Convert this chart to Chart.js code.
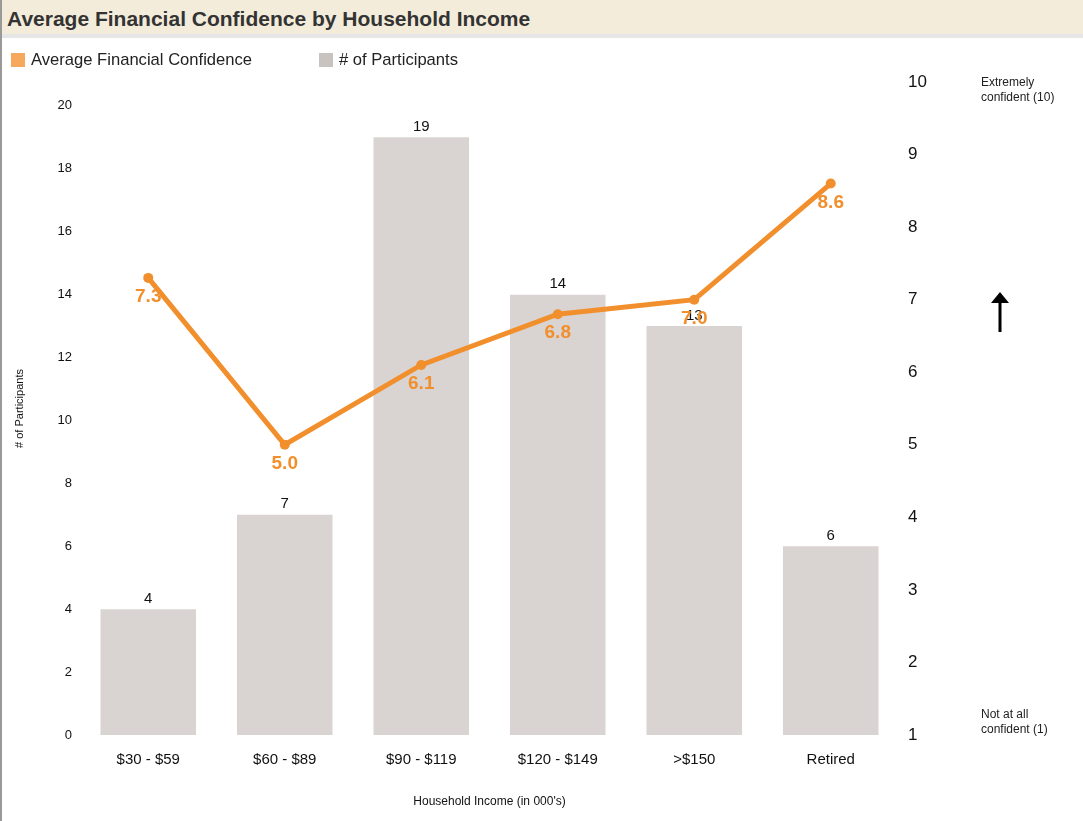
<!DOCTYPE html>
<html>
<head>
<meta charset="utf-8">
<script src="https://cdn.jsdelivr.net/npm/chart.js@4/dist/chart.umd.min.js"></script>
<style>
  body { margin: 0; background: #fff; font-family: "Liberation Sans", Arial, sans-serif; }
  #wrap { position: relative; width: 1083px; height: 821px; overflow: hidden; }
  #title {
    position: absolute; left: 0; top: 0; width: 1083px; height: 38px;
    background: #f3ecdb; border-bottom: 4px solid #e6e6e6;
    font-weight: bold; font-size: 21px; color: #333; line-height: 38px; padding-left: 7px; box-sizing: border-box;
  }
  #leftline { position: absolute; left: 0; top: 0; width: 2px; height: 821px; background: #999; }
  .leg { position: absolute; top: 50px; font-size: 16.6px; color: #222; display: flex; align-items: center; }
  .leg span.box { display: inline-block; width: 14px; height: 14px; margin-right: 6px; }
  .note { position: absolute; left: 981px; font-size: 12px; color: #222; line-height: 15px; }
  canvas { position: absolute; left: 0; top: 0; }
</style>
</head>
<body>
<div id="wrap">
  <canvas id="chart" width="1083" height="821"></canvas>
  <div id="title">Average Financial Confidence by Household Income</div>
  <div id="leftline"></div>
  <div class="leg" style="left:11px"><span class="box" style="background:#f6a95c"></span>Average Financial Confidence</div>
  <div class="leg" style="left:319px"><span class="box" style="background:#c9c3c0"></span># of Participants</div>
  <div class="note" style="top:75px">Extremely<br>confident (10)</div>
  <div class="note" style="top:707px">Not at all<br>confident (1)</div>
  <svg style="position:absolute;left:990px;top:290px" width="20" height="44">
    <polygon points="10,2 1,13 19,13" fill="#000"/>
    <rect x="8.5" y="12" width="3" height="30" fill="#000"/>
  </svg>
</div>
<script>
const categories = ['$30 - $59', '$60 - $89', '$90 - $119', '$120 - $149', '>$150', 'Retired'];
const participants = [4, 7, 19, 14, 13, 6];
const confidence = [7.3, 5.0, 6.1, 6.8, 7.0, 8.6];

const ctx = document.getElementById('chart');

// value labels for bars and line points
const valueLabels = {
  id: 'valueLabels',
  afterDatasetsDraw(chart) {
    const c = chart.ctx;
    c.save();
    c.textAlign = 'center';
    const bars = chart.getDatasetMeta(1);
    c.font = '15px "Liberation Sans", Arial, sans-serif';
    c.fillStyle = '#111';
    c.textBaseline = 'bottom';
    bars.data.forEach((el, i) => {
      c.fillText(participants[i], el.x, el.y - 3);
    });
    const line = chart.getDatasetMeta(0);
    c.font = 'bold 19px "Liberation Sans", Arial, sans-serif';
    c.fillStyle = '#f28f2d';
    c.textBaseline = 'middle';
    line.data.forEach((el, i) => {
      c.fillText(confidence[i].toFixed(1), el.x, el.y + 19);
    });
    c.restore();
  }
};

new Chart(ctx, {
  type: 'bar',
  data: {
    labels: categories,
    datasets: [
      {
        type: 'line',
        label: 'Average Financial Confidence',
        data: confidence,
        yAxisID: 'y1',
        borderColor: '#f28f2d',
        backgroundColor: '#f28f2d',
        borderWidth: 5,
        pointRadius: 5,
        pointBorderWidth: 0,
        pointHoverRadius: 5,
        tension: 0,
        order: 0,
      },
      {
        label: '# of Participants',
        data: participants,
        yAxisID: 'y',
        backgroundColor: '#d9d4d2',
        categoryPercentage: 0.7,
        barPercentage: 1,
        order: 1,
      },
    ],
  },
  options: {
    responsive: false,
    animation: false,
    layout: { padding: { top: 82, left: 0, right: 0, bottom: 0 } },
    plugins: {
      legend: { display: false },
      tooltip: { enabled: false },
    },
    scales: {
      x: {
        grid: { display: false },
        border: { display: false },
        ticks: { color: '#111', font: { size: 15, family: '"Liberation Sans", Arial' }, padding: 8 },
        title: {
          display: true,
          text: "Household Income (in 000's)",
          color: '#111',
          font: { size: 12, family: '"Liberation Sans", Arial' },
          padding: { top: 4, bottom: 12 },
        },
        afterFit(scale) { scale.height = 86; },
      },
      y: {
        position: 'left',
        min: 0,
        max: 20.76,
        grid: { display: false },
        border: { display: false },
        ticks: {
          stepSize: 2,
          color: '#111',
          padding: 0,
          font: { size: 13, family: '"Liberation Sans", Arial' },
        },
        afterBuildTicks(scale) {
          scale.ticks = scale.ticks.filter(t => t.value % 2 === 0);
        },
        title: {
          display: true,
          text: '# of Participants',
          color: '#111',
          font: { size: 11, family: '"Liberation Sans", Arial' },
          padding: { top: 13, bottom: 0 },
        },
        afterFit(scale) { scale.width = 80; },
      },
      y1: {
        position: 'right',
        min: 1,
        max: 10,
        grid: { display: false },
        border: { display: false },
        ticks: {
          stepSize: 1,
          color: '#111',
          padding: 1,
          font: { size: 17, family: '"Liberation Sans", Arial' },
        },
        afterFit(scale) { scale.width = 184; },
      },
    },
  },
  plugins: [valueLabels],
});
</script>
</body>
</html>
